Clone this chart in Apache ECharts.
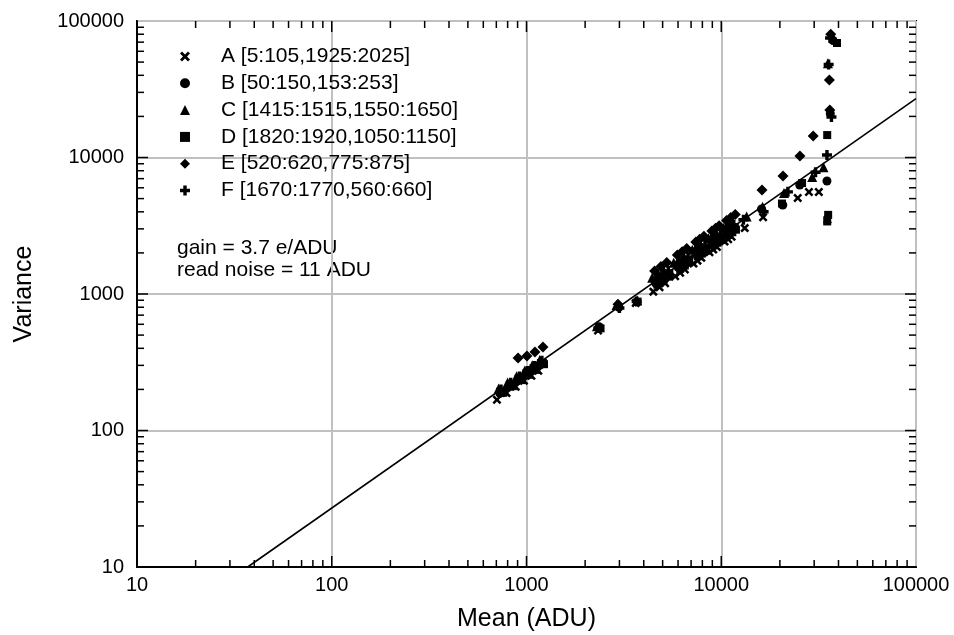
<!DOCTYPE html>
<html>
<head>
<meta charset="utf-8">
<script src="https://cdn.jsdelivr.net/npm/echarts@6/dist/echarts.min.js"></script>
<style>html,body{margin:0;padding:0;background:#fff}#c{width:954px;height:635px}</style>
</head>
<body>
<div id="c"></div>
<script>
// ---- data (mean ADU, variance) ----
const seriesNames = ['A [5:105,1925:2025]','B [50:150,153:253]','C [1415:1515,1550:1650]','D [1820:1920,1050:1150]','E [520:620,775:875]','F [1670:1770,560:660]'];
const dataA = [[705,168],[790,188],[880,209],[970,231],[1060,252],[1150,274],[2330,540],[3640,860],
  [4480,1040],[4820,1120],[5150,1200],[5800,1350],[6150,1430],[6500,1510],[7200,1670],[7550,1755],[7900,1840],[8700,2020],[9100,2115],[9500,2210],[10400,2420],[10850,2520],[11300,2630],
  [13200,3040],[16400,3650],[24700,5050],[28200,5590],[31700,5590],[35100,3500]];
const dataB = [[730,187],[815,209],[900,231],[990,254],[1080,277],[1180,303],[2360,575],[2980,800],
  [4600,1205],[4950,1298],[5300,1390],[6000,1570],[6350,1665],[6700,1755],[7450,1955],[7800,2045],[8200,2150],[9000,2360],[9400,2464],[9800,2570],[10700,2805],[11200,2936],[11700,3065],
  [16100,4200],[20700,4490],[25300,6290],[34900,6730],[36300,21000],[37500,72000]];
const dataC = [[720,203],[800,225],[890,250],[980,275],[1070,301],[1170,329],[2300,580],[2900,830],[3700,900],
  [4420,1315],[4730,1406],[5050,1500],[5700,1695],[6050,1799],[6400,1900],[7100,2110],[7450,2215],[7800,2320],[8600,2560],[9000,2676],[9400,2795],[10300,3060],[10750,3196],[11200,3330],
  [13500,3700],[16300,4350],[21000,5500],[29300,7200],[33500,8500],[35300,49000]];
const dataD = [[760,189],[850,211],[940,234],[1030,256],[1120,278],[1230,306],[2400,560],[3720,880],
  [4700,1170],[5050,1256],[5400,1340],[6150,1530],[6500,1616],[6850,1705],[7600,1890],[7950,1977],[8350,2075],[9150,2275],[9550,2375],[10000,2485],[10900,2710],[11400,2835],[11900,2960],
  [20500,4600],[26000,6500],[35000,14600],[35000,3400],[35400,3800],[39300,69000]];
const dataE = [[905,340],[1005,351],[1105,376],[1215,409],[2950,840],
  [4550,1475],[4900,1589],[5250,1700],[5950,1930],[6300,2043],[6650,2155],[7400,2400],[7750,2514],[8150,2645],[8950,2900],[9350,3032],[9750,3160],[10650,3455],[11200,3632],[11800,3830],
  [16190,5780],[20750,7310],[25350,10260],[29650,14400],[36100,22300],[35900,37000],[36500,80000]];
const dataF = [[740,200],[830,224],[920,249],[1010,273],[1100,297],[1200,324],[2340,565],[3000,790],[3680,880],
  [4650,1280],[5000,1378],[5350,1475],[6050,1670],[6400,1764],[6750,1860],[7500,2070],[7850,2164],[8250,2275],[9050,2495],[9450,2605],[9900,2730],[10800,2975],[11200,3088],[11600,3200],
  [13000,3500],[16500,4000],[22000,5600],[30500,7800],[34900,10420],[35600,48000],[36800,19800],[36200,75000]];
const gain = 3.7; // e/ADU, fit line variance = mean / gain
const xTickLabels = [10,100,1000,10000,100000];
const yTickLabels = [10,100,1000,10000,100000];
const minorTicks = [20,30,40,50,60,70,80,90,200,300,400,500,600,700,800,900,2000,3000,4000,5000,6000,7000,8000,9000,20000,30000,40000,50000,60000,70000,80000,90000];
const majorTicks = [100,1000,10000];

const FONT = 'Liberation Sans, Arial, sans-serif';
const X_PATH = 'path://M2,0 L5,3 L8,0 L10,2 L7,5 L10,8 L8,10 L5,7 L2,10 L0,8 L3,5 L0,2 Z';
const PLUS_PATH = 'path://M3.3,0 H6.7 V3.3 H10 V6.7 H6.7 V10 H3.3 V6.7 H0 V3.3 H3.3 Z';
const symbols = [X_PATH,'circle','triangle','rect','diamond',PLUS_PATH];
const sizes = [9,9,10,8,11,10];
const datas = [dataA,dataB,dataC,dataD,dataE,dataF];

const fitLine = [[10*gain, 10],[100000, 100000/gain]];

const chart = echarts.init(document.getElementById('c'), null, {renderer:'canvas'});

const ST = {stroke:'#000', lineWidth:1.5};
function xTicks(len) {
  return function(params, api) {
    const v = api.value(0); const cs = params.coordSys; const p = api.coord([v, 10]);
    return {type:'group', children:[
      {type:'line', shape:{x1:p[0],y1:cs.y+cs.height,x2:p[0],y2:cs.y+cs.height-len}, style:ST},
      {type:'line', shape:{x1:p[0],y1:cs.y,x2:p[0],y2:cs.y+len}, style:ST}
    ]};
  };
}
function yTicks(len) {
  return function(params, api) {
    const v = api.value(1); const cs = params.coordSys; const p = api.coord([10, v]);
    return {type:'group', children:[
      {type:'line', shape:{x1:cs.x,y1:p[1],x2:cs.x+len,y2:p[1]}, style:ST},
      {type:'line', shape:{x1:cs.x+cs.width,y1:p[1],x2:cs.x+cs.width-len,y2:p[1]}, style:ST}
    ]};
  };
}

const series = datas.map((d,i)=>({
  name: seriesNames[i], type:'scatter', data:d, symbol:symbols[i], symbolSize:sizes[i],
  itemStyle:{color:'#000', opacity:1}, z:5
}));
series.push({type:'line', data:fitLine, showSymbol:false, symbol:'none', lineStyle:{color:'#000', width:1.6}, z:4, silent:true});
series.push({type:'custom', data:minorTicks.map(v=>[v,10]), renderItem:xTicks(7), silent:true, z:6, clip:false});
series.push({type:'custom', data:minorTicks.map(v=>[10,v]), renderItem:yTicks(7), silent:true, z:6, clip:false});
series.push({type:'custom', data:majorTicks.map(v=>[v,10]), renderItem:xTicks(11), silent:true, z:6, clip:false});
series.push({type:'custom', data:majorTicks.map(v=>[10,v]), renderItem:yTicks(11), silent:true, z:6, clip:false});

const option = {
  animation:false,
  backgroundColor:'#fff',
  grid:{left:137, right:38, top:21, bottom:68, show:true, borderColor:'#000', borderWidth:2, backgroundColor:'transparent', outerBoundsMode:'none', containLabel:false},
  legend:{
    data:seriesNames, orient:'vertical', left:180, top:46, padding:0,
    itemWidth:10, itemHeight:10, itemGap:5.8,
    textStyle:{fontFamily:FONT, fontSize:21, color:'#000', lineHeight:21, padding:[0,0,0,26]},
    itemStyle:{color:'#000', opacity:1}, selectedMode:false
  },
  xAxis:{
    type:'log', logBase:10, min:10, max:100000,
    name:'Mean (ADU)', nameLocation:'middle', nameGap:40,
    nameTextStyle:{fontFamily:FONT, fontSize:25, color:'#000'},
    axisLine:{show:true, lineStyle:{color:'#000', width:2}},
    axisTick:{show:false},
    axisLabel:{fontFamily:FONT, fontSize:20, color:'#000', margin:8, formatter:v=>String(v), showMinLabel:true, showMaxLabel:true},
    splitLine:{show:true, lineStyle:{color:'#c0c0c0', width:2}}
  },
  yAxis:{
    type:'log', logBase:10, min:10, max:100000,
    name:'Variance', nameLocation:'middle', nameGap:100,
    nameTextStyle:{fontFamily:FONT, fontSize:25, color:'#000'},
    axisLine:{show:true, lineStyle:{color:'#000', width:2}},
    axisTick:{show:false},
    axisLabel:{fontFamily:FONT, fontSize:20, color:'#000', margin:13, formatter:v=>String(v), showMinLabel:true, showMaxLabel:true},
    splitLine:{show:true, lineStyle:{color:'#c0c0c0', width:2}}
  },
  graphic:[
    {type:'text', left:177, top:238, style:{text:'gain = 3.7 e/ADU', font:'21px '+FONT, fill:'#000'}},
    {type:'text', left:177, top:260, style:{text:'read noise = 11 ADU', font:'21px '+FONT, fill:'#000'}}
  ],
  series:series
};
chart.setOption(option);
</script>
</body>
</html>
